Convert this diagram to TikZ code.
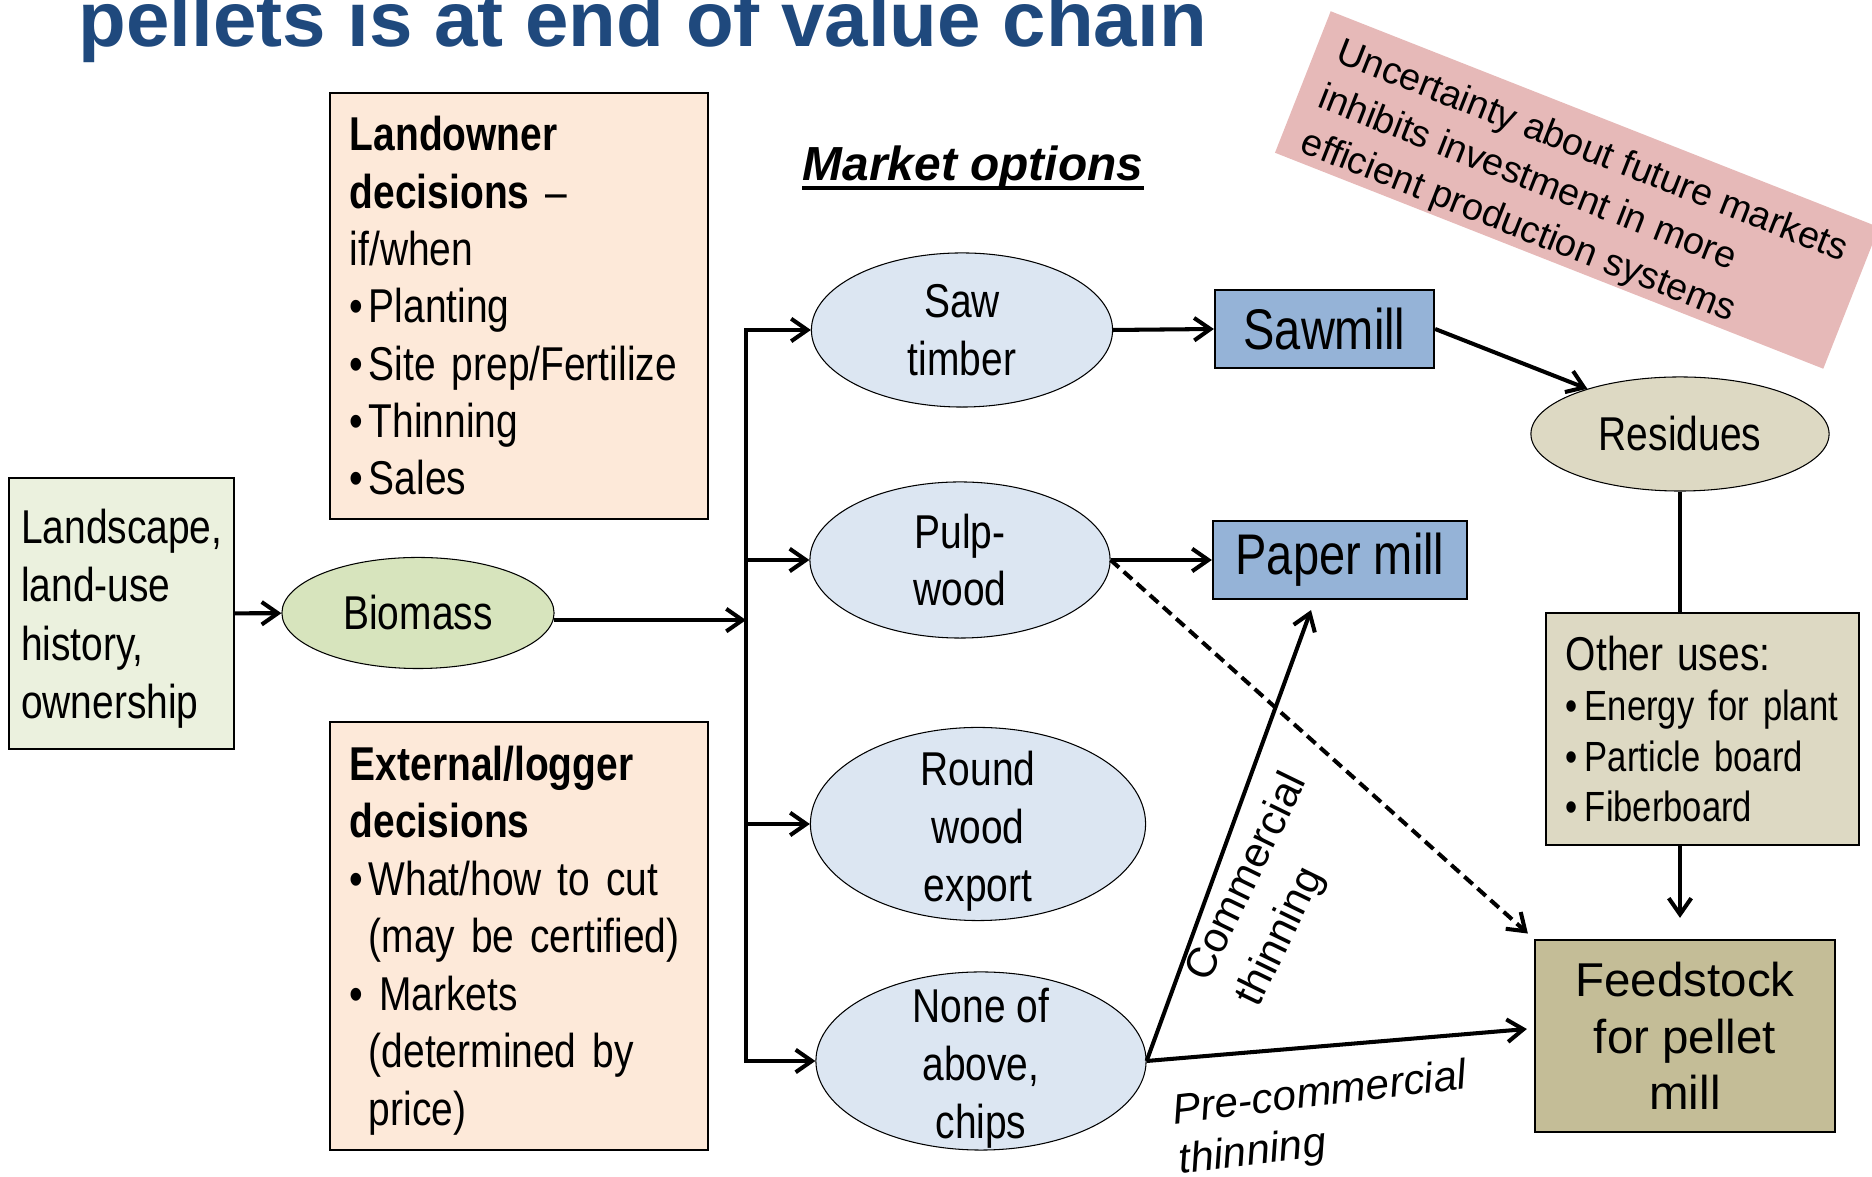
\documentclass[tikz,border=0pt]{standalone}
\usepackage{fontspec}
\setmainfont{Liberation Sans}[FakeStretch=0.82]
\newfontfamily\widefont{Liberation Sans}
\usetikzlibrary{arrows.meta,calc,shapes.geometric}

\definecolor{titleblue}{RGB}{31,73,125}
\definecolor{decfill}{RGB}{253,233,217}
\definecolor{landgreen}{RGB}{235,241,222}
\definecolor{biomassgreen}{RGB}{215,228,189}
\definecolor{optblue}{RGB}{220,230,242}
\definecolor{millblue}{RGB}{149,179,215}
\definecolor{residuetan}{RGB}{221,217,195}
\definecolor{feedtan}{RGB}{196,189,151}
\definecolor{pinkfill}{RGB}{230,185,184}

\newcommand{\bul}{\makebox[5.4pt][l]{•}}
\newcommand{\lift}[1]{\rule{0pt}{#1}}

\tikzset{
  decbox/.style={draw, line width=0.6pt, fill=decfill, text width=3.38cm, inner xsep=0.2cm,
    align=left, font=\fontsize{13.5}{16.3}\selectfont},
  market/.style={ellipse, draw, line width=0.3pt, fill=optblue, inner sep=-0.3cm,
    align=center, font=\fontsize{13.5}{16.4}\selectfont},
  mill/.style={draw, line width=0.6pt, fill=millblue, minimum height=0.78cm, inner sep=0pt,
    font=\fontsize{16.3}{19}\selectfont},
  flow/.style={->, line width=1.15pt},
}

\begin{document}
\begin{tikzpicture}[x=0.01cm, y=-0.01cm, >={Straight Barb[length=4.6pt,width=6.4pt]}]
  \useasboundingbox (0,0) rectangle (1872,1177);

  \node[anchor=base west, inner sep=0pt, text=titleblue,
    font=\widefont\bfseries\fontsize{22.2}{26}\selectfont] (title) at (78,47)
    {pellets is at end of value chain};

  \node[fill=pinkfill, rotate=-21.5, minimum width=5.89cm, minimum height=1.52cm,
    align=left, inner sep=0pt, font=\widefont\fontsize{10.7}{13.8}\selectfont] (uncertain) at (1577,190)
    {\lift{12.4pt}Uncertainty about future markets\\inhibits investment in more\\efficient production systems};

  \node[draw, line width=0.6pt, fill=landgreen, minimum width=2.245cm, minimum height=2.71cm,
    align=left, inner sep=0.05cm, font=\fontsize{13.5}{16.6}\selectfont] (landscape) at (121.75,613.5)
    {\lift{12.7pt}Landscape,\\land-use\\history,\\ownership};
  \node[market, fill=biomassgreen, minimum width=2.72cm, minimum height=1.11cm] (biomass) at (418,613) {Biomass};

  \node[decbox, minimum height=4.26cm] (landowner) at (519,306)
    {\textbf{Landowner}\\\textbf{decisions} –\\if/when\\\bul Planting\\\bul Site prep/Fertilize\\\bul Thinning\\\bul Sales};
  \node[decbox, minimum height=4.28cm, font=\fontsize{13.5}{16.35}\selectfont] (external) at (519,936)
    {\lift{12.2pt}\textbf{External/logger}\\\textbf{decisions}\\\bul What/how to cut\\\hspace*{5.4pt}(may be certified)\\\bul\hspace{3pt}Markets\\\hspace*{5.4pt}(determined by\\\hspace*{5.4pt}price)};

  \node[anchor=base, inner sep=0pt, font=\widefont\bfseries\itshape\fontsize{13.6}{16}\selectfont] (markettitle) at (973,181)
    {Market options};
  \draw[line width=1.1pt] ($(markettitle.base west)+(0,7)$) -- ($(markettitle.base east)+(0,7)$);

  \node[market, minimum width=3.01cm, minimum height=1.54cm] (saw) at (962,330) {Saw\\timber};
  \node[market, minimum width=3.00cm, minimum height=1.56cm] (pulp) at (960,560) {Pulp-\\wood};
  \node[market, minimum width=3.35cm, minimum height=1.93cm] (round) at (978,824) {\lift{13.9pt}Round\\wood\\export};
  \node[market, minimum width=3.30cm, minimum height=1.78cm] (none) at (981,1061) {\lift{13.9pt}None of\\above,\\chips};

  \node[mill, minimum width=2.19cm] (sawmill) at (1324.5,329) {Sawmill};
  \node[mill, minimum width=2.54cm] (paper) at (1340,560) {Paper mill};

  \node[market, fill=residuetan, minimum width=2.98cm, minimum height=1.14cm] (residues) at (1680,434) {Residues};
  \node[draw, line width=0.6pt, fill=residuetan, text width=2.73cm, inner xsep=0.2cm, minimum height=2.32cm,
    align=left, font=\fontsize{12}{14.3}\selectfont] (other) at (1702.5,729)
    {{\fontsize{13.5}{14.3}\selectfont Other uses:}\\\bul Energy for plant\\\bul Particle board\\\bul Fiberboard};
  \node[draw, line width=0.6pt, fill=feedtan, minimum width=3.0cm, minimum height=1.92cm,
    align=center, font=\widefont\fontsize{13.5}{16.1}\selectfont] (feed) at (1685,1036)
    {Feedstock\\for pellet\\mill};

  \node[rotate=64, align=left, inner sep=0pt, font=\widefont\fontsize{12}{16}\selectfont] (commlabel) at (1273,890)
    {Commercial\\thinning};
  \node[rotate=7, align=left, inner sep=0pt, font=\widefont\itshape\fontsize{12}{14.2}\selectfont] (prelabel) at (1323,1120)
    {Pre-commercial\\thinning};

  \coordinate (trunk) at (746,0);

  \draw[flow] (landscape) -- (biomass);
  \draw[flow] (biomass.-3.5) -- (biomass.-3.5 -| trunk);
  \draw[line width=1.15pt, <->] (saw.west) -- (saw.west -| trunk) -- (none.west -| trunk) -- (none.west);
  \draw[flow] (pulp.west -| trunk) -- (pulp.west);
  \draw[flow] (round.west -| trunk) -- (round.west);

  \draw[flow] (saw.east) -- (sawmill.west);
  \draw[flow] (pulp.east) -- (paper.west);
  \draw[flow] (sawmill.east) -- (residues.154);
  \draw[line width=1.15pt] (residues.south) -- (residues.south |- other.north);
  \draw[flow, shorten >=0.21cm] (residues.south |- other.south) -- (residues.south |- feed.north);

  \draw[flow, dash pattern=on 3.2pt off 1.8pt, shorten >=0.08cm] (pulp.east) -- (feed.north west);
  \draw[flow] (none.east) -- ($(paper.south)+(-29,10)$);
  \draw[flow] (none.east) -- ($(feed.west)+(-7,-7)$);
\end{tikzpicture}
\end{document}
